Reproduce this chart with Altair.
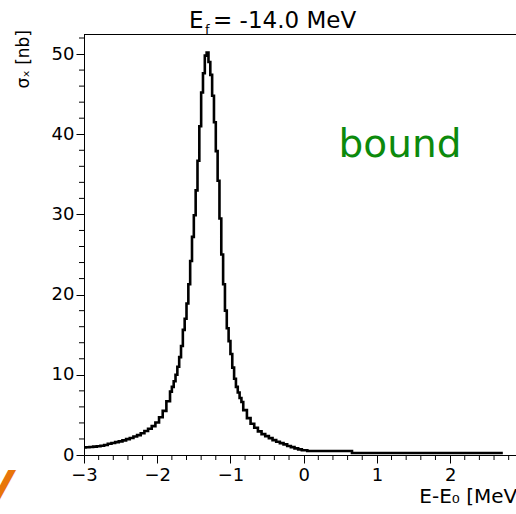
import altair as alt
import pandas as pd

# histogram bin low edges (MeV) and cross sections (nb)
bin_low = [-3.025, -2.975, -2.925, -2.875, -2.825, -2.775, -2.725, -2.675, -2.625, -2.575,
           -2.525, -2.475, -2.425, -2.375, -2.325, -2.275, -2.225, -2.175, -2.125, -2.075,
           -2.025, -1.975, -1.925, -1.875,
           -1.825, -1.8, -1.775, -1.75, -1.725, -1.7, -1.675, -1.65, -1.625, -1.6,
           -1.575, -1.55, -1.525, -1.5, -1.475, -1.45, -1.425, -1.4, -1.375, -1.35,
           -1.325, -1.3, -1.275, -1.25, -1.225, -1.2, -1.175, -1.15, -1.125, -1.1,
           -1.075, -1.05, -1.025, -1.0, -0.975, -0.95, -0.925, -0.9, -0.875, -0.85,
           -0.825, -0.775, -0.725, -0.675, -0.625, -0.575, -0.525, -0.475, -0.425, -0.375,
           -0.325, -0.275, -0.225, -0.175, -0.125, -0.075, -0.025,
           0.05, 0.66, 2.72]
sigma = [0.93, 0.96, 1.00, 1.04, 1.10, 1.16, 1.25, 1.40, 1.50, 1.60,
         1.70, 1.83, 1.98, 2.12, 2.30, 2.48, 2.72, 3.00, 3.28, 3.60,
         4.05, 4.70, 5.50, 6.70,
         7.9, 8.5, 9.2, 10.0, 11.0, 12.2, 13.6, 15.6, 17.0, 18.9,
         21.3, 24.2, 27.2, 29.9, 33.0, 36.7, 41.0, 45.2, 47.6, 49.8,
         50.2, 49.0, 47.4, 44.8, 41.5, 37.9, 34.2, 29.5, 25.0, 21.3,
         18.0, 15.8, 14.2, 12.6, 10.9, 9.5, 8.5, 7.8, 7.1, 6.6,
         5.6, 4.6, 3.9, 3.4, 2.95, 2.60, 2.35, 2.10, 1.85, 1.65,
         1.48, 1.32, 1.12, 0.98, 0.82, 0.70, 0.60,
         0.50, 0.25, 0.25]

x_major = [-3, -2, -1, 0, 1, 2]
x_minor = [-2.8, -2.6, -2.4, -2.2, -1.8, -1.6, -1.4, -1.2, -0.8, -0.6, -0.4, -0.2,
           0.2, 0.4, 0.6, 0.8, 1.2, 1.4, 1.6, 1.8, 2.2, 2.4, 2.6, 2.8]
y_major = [0, 10, 20, 30, 40, 50]
y_minor = [2, 4, 6, 8, 12, 14, 16, 18, 22, 24, 26, 28, 32, 34, 36, 38, 42, 44, 46, 48, 52]

X_DOMAIN = [-3, 2.9]
Y_DOMAIN = [0, 52.5]
W, H = 432, 421
FONT = "DejaVu Sans"

hist = pd.DataFrame({"e": bin_low, "s": sigma})
xs = alt.Scale(domain=X_DOMAIN, nice=False, zero=False)
ys = alt.Scale(domain=Y_DOMAIN, nice=False)

line = alt.Chart(hist).mark_line(
    interpolate="step-after", color="black", strokeWidth=2.6, clip=True
).encode(
    x=alt.X("e:Q", scale=xs, axis=alt.Axis(values=x_major, format="d", title=None,
                                            tickSize=8, labelPadding=3, grid=False,
                                            labelFlush=False, labelOverlap=False)),
    y=alt.Y("s:Q", scale=ys, axis=alt.Axis(values=y_major, format="d", title=None,
                                            tickSize=8, labelPadding=2, grid=False,
                                            labelFlush=False, labelOverlap=False)),
)

xminor = alt.Chart(pd.DataFrame({"m": x_minor})).mark_rule(color="black", strokeWidth=1).encode(
    x=alt.X("m:Q", scale=xs), y=alt.value(H), y2=alt.value(H + 5)
)
yminor = alt.Chart(pd.DataFrame({"m": y_minor})).mark_rule(color="black", strokeWidth=1).encode(
    y=alt.Y("m:Q", scale=ys), x=alt.value(-5), x2=alt.value(0)
)
one = alt.Data(values=[{"a": 1}])
topframe = alt.Chart(one).mark_rule(color="black", strokeWidth=1).encode(
    x=alt.value(0), x2=alt.value(W), y=alt.value(0.5)
)

def txt(text, x, y, size, color="black", align="left", angle=0, style=None, weight=None):
    kw = dict(text=text, font=FONT, fontSize=size, color=color, align=align,
              baseline="alphabetic")
    if angle:
        kw["angle"] = angle
    if style:
        kw["fontStyle"] = style
    if weight:
        kw["fontWeight"] = weight
    return alt.Chart(one).mark_text(**kw).encode(x=alt.value(x), y=alt.value(y))

title_E = txt("E", 105, -6, 23)
title_f = txt("f", 121, 0, 13)
title_rest = txt("= -14.0 MeV", 129, -6, 23)
ytitle = txt("σₓ [nb]", -55, -4, 17, align="right", angle=270)
xtitle = txt("E-E₀ [MeV]", 441, 469, 20, align="right")
bound = txt("bound", 316, 123, 39, color="#0c8a0c", align="center")
orange = txt("V", -86, 466, 40, color="#e8750a", align="center", style="italic", weight="bold")

chart = alt.layer(
    line, xminor, yminor, topframe, title_E, title_f, title_rest, ytitle, xtitle, bound, orange
).properties(
    width=W, height=H,
    autosize=alt.AutoSizeParams(type="none"),
    padding={"left": 84, "top": 34, "right": 0, "bottom": 59},
).configure_view(strokeWidth=0).configure_axis(
    labelFont=FONT, labelFontSize=18, labelColor="black", tickColor="black",
    domainColor="black", domainWidth=1, tickWidth=1,
)

chart.save("out.html", embed_options={"renderer": "svg", "actions": False})
